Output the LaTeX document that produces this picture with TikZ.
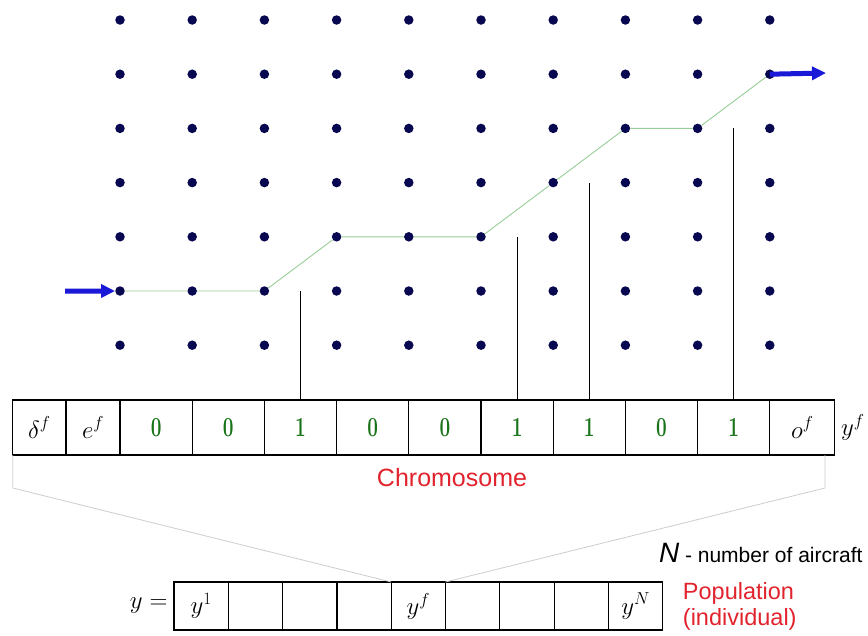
\documentclass[tikz,border=0pt]{standalone}
\usepackage{fontspec}
\usepackage{graphicx}
\setsansfont{Liberation Sans}
\usetikzlibrary{arrows.meta,positioning}
\definecolor{dotnavy}{RGB}{8,8,80}
\definecolor{routegreen}{RGB}{150,205,150}
\definecolor{flowblue}{RGB}{25,25,215}
\definecolor{bitgreen}{RGB}{25,115,25}
\definecolor{notered}{RGB}{225,35,45}
\definecolor{bracegray}{RGB}{205,205,205}
\newcommand{\tallbit}[1]{\scalebox{1}[1.45]{\bfseries\addfontfeature{FakeBold=1.5}#1}}
\begin{document}
\begin{tikzpicture}[
        x=1pt, y=-1pt,
        dot/.style={circle, fill=dotnavy, inner sep=0pt, minimum size=9.5pt},
        route/.style={routegreen, line width=0.9pt},
        flow/.style={flowblue, line width=5pt, -{Triangle[length=14pt, width=13pt]}},
        gene/.style={draw, line width=1.2pt, outer sep=0pt, inner sep=0pt, minimum height=55pt, font=\fontsize{25}{28}\selectfont},
        bit/.style={gene, minimum width=72.2pt, text=bitgreen, font=\fontsize{19}{22}\selectfont},
        member/.style={draw, line width=1.2pt, outer sep=0pt, inner sep=0pt, minimum width=54.3pt, minimum height=48pt, font=\fontsize{25}{28}\selectfont},
        note/.style={font=\sffamily\fontsize{23.5}{26}\selectfont, text=notered},
        gene link/.style={line width=1pt},
        bracket/.style={bracegray, line width=0.8pt},
    ]
    \useasboundingbox (0,0) rectangle (868,635);
    \foreach \c in {1,...,10}
        \foreach \r in {1,...,7}
            \node[dot] (d-\c-\r) at ({120+72.2*(\c-1)}, {20+54.2*(\r-1)}) {};
    \draw[route] (d-1-6) -- (d-2-6) -- (d-3-6) -- (d-4-5) -- (d-5-5) -- (d-6-5)
        -- (d-7-4) -- (d-8-3) -- (d-9-3) -- (d-10-2);
    \coordinate (in) at (65,291);
    \coordinate (out) at (826,73);
    \draw[flow] (in) -- (d-1-6.west);
    \draw[flow] (d-10-2.center) -- (out);

    \node[gene, minimum width=53.3pt] (delta) at (39.35,427.5) {$\delta^f$};
    \node[gene, minimum width=54pt, right=0pt of delta] (b0) {$e^f$};
    \foreach \v [count=\i, remember=\i as \j (initially 0)] in {0,0,1,0,0,1,1,0,1}
        \node[bit, right=0pt of b\j] (b\i) {\tallbit{\v}};
    \node[gene, minimum width=65pt, right=0pt of b9] (omega) {$o^f$};
    \node[right=4pt of omega, inner sep=2pt, font=\fontsize{25}{28}\selectfont] (yf) {$y^f$};
    \foreach \i/\r in {3/6,6/5,7/4,9/3}
        \draw[gene link] (b\i.north) -- (b\i.north |- d-1-\r);
    \node[note, font=\sffamily\fontsize{25}{28}\selectfont] (chromo) at (452,478) {Chromosome};

    \node[member] (p1) at (201.2,606) {$y^1$};
    \foreach \t [count=\i from 2, remember=\i as \j (initially 1)] in {{},{},{},{$y^f$},{},{},{},{$y^N$}}
        \node[member, right=0pt of p\j] (p\i) {\t};
    \node[left=3pt of p1, font=\fontsize{24}{28}\selectfont] (yeq) {$y=$};
    \node[note, right=20pt of p9, align=left, inner sep=0pt] (pop) {Population\\(individual)};
    \node[font=\sffamily\fontsize{21}{24}\selectfont, anchor=base east] (count) at (866,562)
        {{\fontsize{28}{30}\selectfont\itshape N} - number of aircraft};

    \coordinate (knee-l) at (12.7,488);
    \coordinate (knee-r) at (825,488);
    \draw[bracket] (knee-l |- delta.south) -- (knee-l) -- (p5.north west);
    \draw[bracket] (knee-r |- omega.south) -- (knee-r) -- (p5.north east);
\end{tikzpicture}
\end{document}
